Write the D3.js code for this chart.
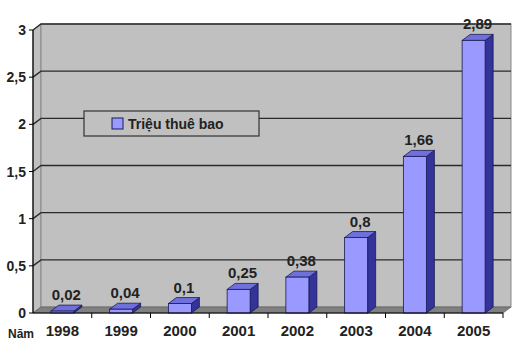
<!DOCTYPE html>
<html><head><meta charset="utf-8">
<script src="https://cdn.jsdelivr.net/npm/d3@7"></script>
<style>body{margin:0;background:#fff}svg{display:block}text{font-family:"Liberation Sans",Arial,sans-serif;font-weight:bold;fill:#222}</style>
</head><body>
<script>
const categories = ["1998","1999","2000","2001","2002","2003","2004","2005"];
const values = [0.02,0.04,0.1,0.25,0.38,0.8,1.66,2.89];
const valueLabels = ["0,02","0,04","0,1","0,25","0,38","0,8","1,66","2,89"];
const yTicks = [0,0.5,1,1.5,2,2.5,3];
const yTickLabels = ["0","0,5","1","1,5","2","2,5","3"];
const seriesName = "Triệu thuê bao";
const xTitle = "Năm";

const W=526,H=359, dx=8, dy=-6;
const svg=d3.select("body").append("svg").attr("width",W).attr("height",H);
const y=d3.scaleLinear().domain([0,3]).range([313,30]);
const x=d3.scaleBand().domain(categories).range([33,503]);
const x0=33, x1=503, y0=y(0), yTop=y(3);

// left wall
svg.append("polygon").attr("points",[[x0,yTop],[x0+dx,yTop+dy],[x0+dx,y0+dy],[x0,y0]].join(" "))
  .attr("fill","#c0c0c0").attr("stroke","#888").attr("stroke-width",1);
// back wall
svg.append("rect").attr("x",x0+dx).attr("y",yTop+dy).attr("width",x1-x0).attr("height",y0-yTop)
  .attr("fill","#c0c0c0").attr("stroke","#888").attr("stroke-width",1);
// floor
svg.append("polygon").attr("points",[[x0,y0],[x0+dx,y0+dy],[x1+dx,y0+dy],[x1,y0]].join(" "))
  .attr("fill","#808080").attr("stroke","#666").attr("stroke-width",0.8);
// gridlines
yTicks.filter(t=>t>0).forEach(t=>{
  const yy=y(t);
  svg.append("path").attr("d",`M${x0},${yy}L${x0+dx},${yy+dy}L${x1+dx},${yy+dy}`)
    .attr("fill","none").attr("stroke","#2a2a2a").attr("stroke-width",1.4);
});

// bars
const bw=23;
const g=svg.append("g");
categories.forEach((c,i)=>{
  const cx=x(c)+x.bandwidth()/2, l=cx-bw/2, r=cx+bw/2, t=y(values[i]);
  g.append("polygon").attr("points",[[r,t],[r+dx,t+dy],[r+dx,y0+dy],[r,y0]].join(" "))
    .attr("fill","#333399").attr("stroke","#1a1a55").attr("stroke-width",0.8);
  g.append("polygon").attr("points",[[l,t],[l+dx,t+dy],[r+dx,t+dy],[r,t]].join(" "))
    .attr("fill","#7070dd").attr("stroke","#1a1a55").attr("stroke-width",0.8);
  g.append("rect").attr("x",l).attr("y",t).attr("width",bw).attr("height",y0-t)
    .attr("fill","#9999ff").attr("stroke","#1a1a55").attr("stroke-width",0.8);
  g.append("text").attr("x",cx+dx/2).attr("y",t+dy-5).attr("text-anchor","middle")
    .attr("font-size",15).text(valueLabels[i]);
});

// axes
svg.append("line").attr("x1",x0).attr("x2",x0).attr("y1",yTop).attr("y2",y0).attr("stroke","#000").attr("stroke-width",1.2);
svg.append("line").attr("x1",x0).attr("x2",x1).attr("y1",y0).attr("y2",y0).attr("stroke","#000").attr("stroke-width",1.2);
yTicks.forEach((t,i)=>{
  svg.append("line").attr("x1",x0-4).attr("x2",x0).attr("y1",y(t)).attr("y2",y(t)).attr("stroke","#000");
  svg.append("text").attr("x",26).attr("y",y(t)+5).attr("text-anchor","end").attr("font-size",14).text(yTickLabels[i]);
});
categories.forEach((c,i)=>{
  const bx=x(c)+x.bandwidth();
  svg.append("line").attr("x1",bx).attr("x2",bx).attr("y1",y0).attr("y2",y0+5).attr("stroke","#000");
  svg.append("text").attr("x",x(c)+x.bandwidth()/2).attr("y",336).attr("text-anchor","middle")
    .attr("font-size",15).text(c);
});
svg.append("text").attr("x",8).attr("y",338).attr("font-size",12).text(xTitle);

// legend
svg.append("rect").attr("x",84).attr("y",111).attr("width",175).attr("height",25)
  .attr("fill","#c0c0c0").attr("stroke","#333").attr("stroke-width",1.2);
svg.append("rect").attr("x",112).attr("y",118).attr("width",11).attr("height",11)
  .attr("fill","#9999ff").attr("stroke","#1a1a55");
svg.append("text").attr("x",128).attr("y",128.5).attr("font-size",14).text(seriesName);
</script>
</body></html>
